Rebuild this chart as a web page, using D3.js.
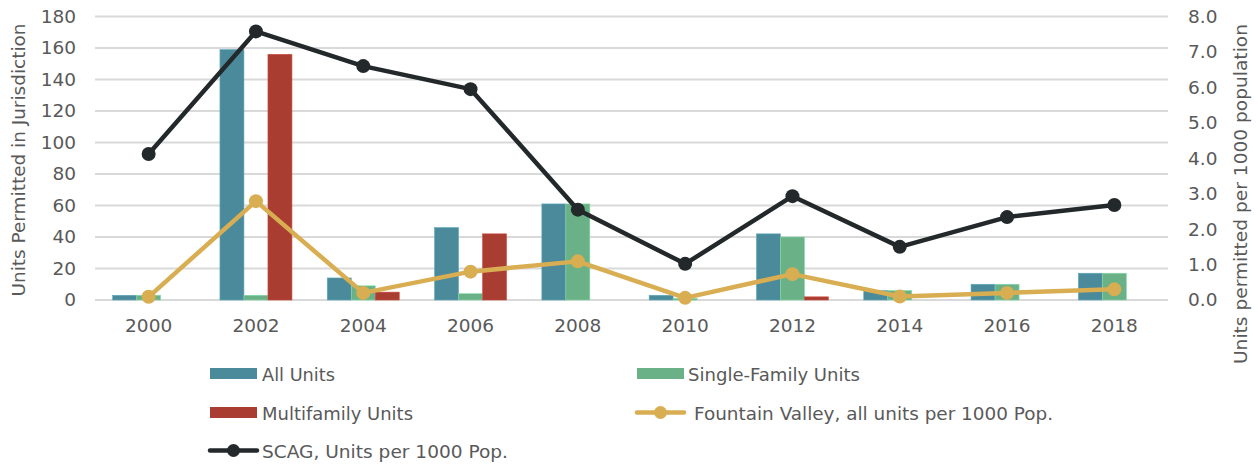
<!DOCTYPE html>
<html lang="en">
<head>
    <meta charset="UTF-8">
    <title>Units Permitted</title>
    <script src="https://d3js.org/d3.v7.min.js"></script>
    <style>
        body {
            margin: 0;
            padding: 0;
            background: #fff;
        }
        svg text {
            font-family: "DejaVu Sans", sans-serif;
            fill: #595959;
        }
        .tick text {
            font-size: 18.5px;
        }
        .legend text {
            font-size: 18px;
        }
    </style>
</head>
<body>
    <svg id="chart" width="1258" height="465"></svg>
    <script>
        // Data
        var years = ['2000', '2002', '2004', '2006', '2008', '2010', '2012', '2014', '2016', '2018'];
        var allUnits = [3, 159, 14, 46, 61, 3, 42, 6, 10, 17];
        var singleFamily = [3, 3, 9, 4, 61, 1, 40, 6, 10, 17];
        var multifamily = [0, 156, 5, 42, 0, 0, 2, 0, 0, 0];
        var fountainValley = [0.09, 2.79, 0.2, 0.8, 1.09, 0.06, 0.73, 0.1, 0.2, 0.3];
        var scag = [4.12, 7.58, 6.6, 5.95, 2.55, 1.02, 2.93, 1.5, 2.34, 2.68];
        var leftTicks = [0, 20, 40, 60, 80, 100, 120, 140, 160, 180];
        var rightTicks = [0, 1, 2, 3, 4, 5, 6, 7, 8];

        var svg = d3.select('#chart');
        var margin = { left: 95, right: 90, top: 16.5, bottom: 165 };
        var width = 1258 - margin.left - margin.right;
        var height = 465 - margin.top - margin.bottom;

        var g = svg.append('g').attr('transform', 'translate(' + margin.left + ',' + margin.top + ')');

        var x = d3.scaleBand().domain(years).range([0, width]);
        var yL = d3.scaleLinear().domain([0, 180]).range([height, 0]);
        var yR = d3.scaleLinear().domain([0, 8]).range([height, 0]);

        // gridlines
        g.append('g').selectAll('line')
            .data(leftTicks)
            .enter().append('line')
            .attr('x1', 0).attr('x2', width)
            .attr('y1', function(d) { return yL(d); })
            .attr('y2', function(d) { return yL(d); })
            .attr('stroke', '#d9d9d9')
            .attr('stroke-width', 2);

        // axes
        var leftAxis = g.append('g')
            .call(d3.axisLeft(yL).tickValues(leftTicks).tickSize(0).tickPadding(19));
        leftAxis.select('.domain').remove();

        var rightAxis = g.append('g')
            .attr('transform', 'translate(' + width + ',0)')
            .call(d3.axisRight(yR).tickValues(rightTicks).tickSize(0).tickPadding(20).tickFormat(d3.format('.1f')));
        rightAxis.select('.domain').remove();

        var bottomAxis = g.append('g')
            .attr('transform', 'translate(0,' + height + ')')
            .call(d3.axisBottom(x).tickSize(0).tickPadding(19));
        bottomAxis.select('.domain').remove();

        svg.selectAll('.tick text').attr('font-family', null);

        // axis titles
        svg.append('text')
            .attr('transform', 'translate(25,160) rotate(-90)')
            .attr('text-anchor', 'middle')
            .attr('font-size', 18)
            .attr('textLength', 273)
            .attr('lengthAdjust', 'spacingAndGlyphs')
            .text('Units Permitted in Jurisdiction');

        svg.append('text')
            .attr('transform', 'translate(1247,194) rotate(-90)')
            .attr('text-anchor', 'middle')
            .attr('font-size', 18)
            .attr('textLength', 340)
            .attr('lengthAdjust', 'spacingAndGlyphs')
            .text('Units permitted per 1000 population');

        // bars
        var series = [
            { name: 'All Units', values: allUnits, color: '#4a8a9a' },
            { name: 'Single-Family Units', values: singleFamily, color: '#6ab187' },
            { name: 'Multifamily Units', values: multifamily, color: '#a93d31' }
        ];
        var barW = 24;
        var sub = d3.scaleBand().domain([0, 1, 2]).range([-barW * 1.5, barW * 1.5]);

        series.forEach(function(s, si) {
            g.append('g').selectAll('rect')
                .data(s.values)
                .enter().append('rect')
                .attr('x', function(d, i) { return x(years[i]) + x.bandwidth() / 2 + sub(si); })
                .attr('y', function(d) { return yL(d); })
                .attr('width', sub.bandwidth())
                .attr('height', function(d) { return height - yL(d); })
                .attr('fill', s.color)
                .attr('stroke', d3.color(s.color).brighter(0.6))
                .attr('stroke-width', 0.6);
        });

        // lines
        var lines = [
            { name: 'Fountain Valley, all units per 1000 Pop.', values: fountainValley, color: '#d9ae52' },
            { name: 'SCAG, Units per 1000 Pop.', values: scag, color: '#23292b' }
        ];
        var lineGen = d3.line()
            .x(function(d, i) { return x(years[i]) + x.bandwidth() / 2; })
            .y(function(d) { return yR(d); });

        lines.forEach(function(l) {
            g.append('path')
                .datum(l.values)
                .attr('d', lineGen)
                .attr('fill', 'none')
                .attr('stroke', l.color)
                .attr('stroke-width', 4.5)
                .attr('stroke-linejoin', 'round');
            g.append('g').selectAll('circle')
                .data(l.values)
                .enter().append('circle')
                .attr('cx', function(d, i) { return x(years[i]) + x.bandwidth() / 2; })
                .attr('cy', function(d) { return yR(d); })
                .attr('r', 7)
                .attr('fill', l.color);
        });

        // legend
        var legend = svg.append('g').attr('class', 'legend');
        var items = [
            { type: 'rect', s: series[0], x: 210, y: 373.5, tx: 262, len: 73 },
            { type: 'rect', s: series[1], x: 637, y: 373.5, tx: 688, len: 172 },
            { type: 'rect', s: series[2], x: 210, y: 412.5, tx: 262, len: 151 },
            { type: 'line', s: lines[0], x: 637, y: 412.5, tx: 694, len: 359 },
            { type: 'line', s: lines[1], x: 210, y: 450.5, tx: 262, len: 246 }
        ];
        items.forEach(function(it) {
            if (it.type === 'rect') {
                legend.append('rect')
                    .attr('x', it.x).attr('y', it.y - 5.5)
                    .attr('width', 47).attr('height', 11)
                    .attr('fill', it.s.color);
            } else {
                legend.append('line')
                    .attr('x1', it.x).attr('x2', it.x + 47)
                    .attr('y1', it.y).attr('y2', it.y)
                    .attr('stroke', it.s.color)
                    .attr('stroke-width', 4.5)
                    .attr('stroke-linecap', 'round');
                legend.append('circle')
                    .attr('cx', it.x + 23.5).attr('cy', it.y)
                    .attr('r', 6.5)
                    .attr('fill', it.s.color);
            }
            legend.append('text')
                .attr('x', it.tx).attr('y', it.y + 7)
                .attr('textLength', it.len)
                .attr('lengthAdjust', 'spacingAndGlyphs')
                .text(it.s.name);
        });
    </script>
</body>
</html>
